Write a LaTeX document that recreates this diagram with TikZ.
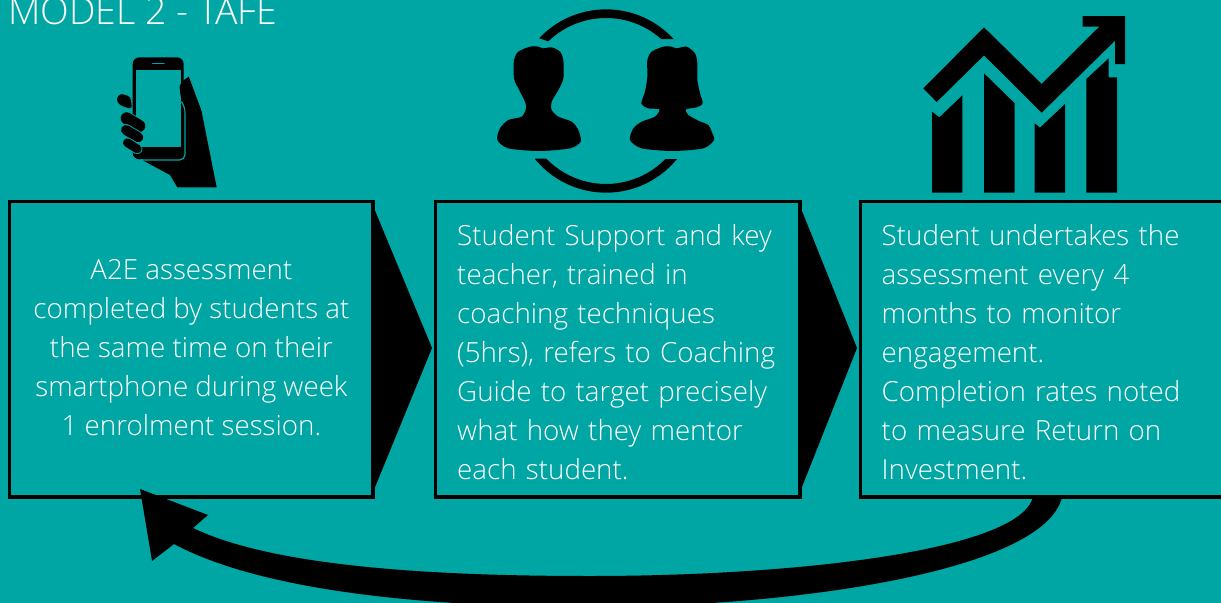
\documentclass[tikz,border=0pt]{standalone}
\usepackage{fontspec}
\setmainfont{Open Sans}[UprightFont={* Light}]
\definecolor{bgteal}{HTML}{00A6A3}
\tikzset{
  x=.75pt,y=-.75pt,
  stepbox/.style={draw=black,line width=2.6pt,minimum height=221.6pt,inner sep=0pt,text=white,font=\fontsize{20.8}{29.25}\selectfont,anchor=north west},
  icon/.style={x=.25pt,y=-.25pt},
}
\begin{document}
\begin{tikzpicture}
\useasboundingbox (0,0) rectangle (1221,603);
\clip (0,0) rectangle (1221,603);
\fill[bgteal] (0,0) rectangle (1221,603);
% title
\node[anchor=base west,inner sep=0pt,text=white,font=\fontsize{28.1}{32}\selectfont] (title) at (8,24) {MODEL 2 - TAFE};
% chevrons
\fill[black] (371,201) -- (432,348) -- (371,497) -- cycle;
\fill[black] (798,201) -- (857,348) -- (798,497) -- cycle;
% boxes
\node[stepbox,minimum width=272.5pt,align=center] (box1) at (8,200) {A2E assessment\\completed by students at\\the same time on their\\smartphone during week\\1 enrolment session.\rule[-3pt]{0pt}{0pt}};
\node[stepbox,minimum width=273.75pt,text width=240.75pt,align=left] (box2) at (433.5,200) {\rule{0pt}{19.5pt}Student Support and key\\teacher, trained in\\coaching techniques\\(5hrs), refers to Coaching\\Guide to target precisely\\what how they mentor\\each student.};
\node[stepbox,minimum width=272.25pt,text width=240pt,align=left] (box3) at (858.5,200) {\rule{0pt}{19.5pt}Student undertakes the\\assessment every 4\\months to monitor\\engagement.\\Completion rates noted\\to measure Return on\\Investment.};
% feedback arrow
\coordinate (tip) at (140,489);
\fill[black] (tip) -- (208,515) -- (193,528)
  .. controls (270,565) and (420,576) .. (590,576)
  .. controls (800,576) and (1020,550) .. (1033,497)
  -- (1062,497)
  .. controls (1045,570) and (800,607) .. (590,607)
  .. controls (420,607) and (260,590) .. (174,544)
  -- (152,561) -- cycle;
% phone icon
\begin{scope}[shift={(90,40)},icon]
  \fill[black] (268,130) -- (296,110) -- (335,215) -- (380,442) -- (262,442) -- (240,405) -- (160,362) -- (160,300) -- (268,300) -- cycle;
  \fill[black,rounded corners=5pt] (128,52) rectangle (281,358);
  \draw[bgteal,line width=.9pt,rounded corners=4pt] (274,185) -- (285,200) -- (285,360) -- (150,360);
  \fill[bgteal] (138,90) rectangle (272,322);
  \draw[bgteal,line width=.9pt,line cap=round] (188,70) -- (222,70);
  \fill[black,rounded corners=2pt] (268,135) -- (296,110) -- (335,215) -- (300,300) -- (284,195) -- (272,170) -- cycle;
  \fill[black,rounded corners=2.5pt] (90,160) -- (122,170) -- (126,208) -- (88,195) -- (78,178) -- cycle;
  \begin{scope}[line cap=round]
    \fill[black] (128,325) rectangle (155,348);
    \draw[bgteal,line width=10.4pt] (110,235) -- (148,258);
    \draw[black,line width=9pt] (110,235) -- (148,258);
    \draw[bgteal,line width=8.9pt] (108,270) -- (145,292);
    \draw[black,line width=7.5pt] (108,270) -- (145,292);
    \draw[bgteal,line width=7.9pt] (112,308) -- (142,327);
    \draw[black,line width=6.5pt] (112,308) -- (142,327);
  \end{scope}
\end{scope}
% people icon
\begin{scope}[shift={(480,0)},icon]
  \fill[black] ([shift={(223.2:275)}]378,303) arc[start angle=223.2,end angle=317.5,radius=275] -- ([shift={(311.9:249)}]378,303) arc[start angle=311.9,end angle=226,radius=249] -- cycle;
  \fill[black] ([shift={(141:275)}]378,303) arc[start angle=141,end angle=39.4,radius=275] -- ([shift={(44.5:249)}]378,303) arc[start angle=44.5,end angle=136,radius=249] -- cycle;
  \fill[black] plot[smooth cycle,tension=.45] coordinates {(190,145)(215,142)(240,155)(250,180)(250,235)(235,270)(215,305)(215,330)(235,350)(275,365)(295,390)(302,425)(270,445)(177,453)(85,445)(52,420)(60,385)(85,360)(125,350)(138,325)(135,305)(115,265)(102,235)(102,180)(115,155)(150,140)(175,140)};
  \fill[black] plot[smooth cycle,tension=.45] coordinates {(590,145)(620,140)(645,160)(652,190)(652,240)(660,280)(668,310)(650,322)(618,328)(625,345)(655,362)(685,375)(695,395)(702,420)(670,445)(577,453)(485,445)(450,420)(460,385)(485,365)(525,350)(538,328)(505,325)(484,310)(495,275)(502,230)(502,180)(515,155)(550,140)(575,140)};
\end{scope}
% chart icon
\begin{scope}[shift={(910,0)},icon]
  \fill[black] (40,265) -- (222,82) -- (395,252) -- (568,80) -- (518,80) -- (518,48) -- (645,48) -- (645,192) -- (615,192) -- (615,122) -- (395,338) -- (222,166) -- (80,306) -- cycle;
  \fill[black] (66,578) -- (66,335) -- (88,352) -- (157,286) -- (157,578) -- cycle;
  \fill[black] (222,578) -- (222,220) -- (314,310) -- (314,578) -- cycle;
  \fill[black] (374,578) -- (374,370) -- (390,383) -- (465,312) -- (465,578) -- cycle;
  \fill[black] (529,578) -- (529,237) -- (596,175) -- (596,232) -- (621,232) -- (621,578) -- cycle;
\end{scope}
\end{tikzpicture}
\end{document}
